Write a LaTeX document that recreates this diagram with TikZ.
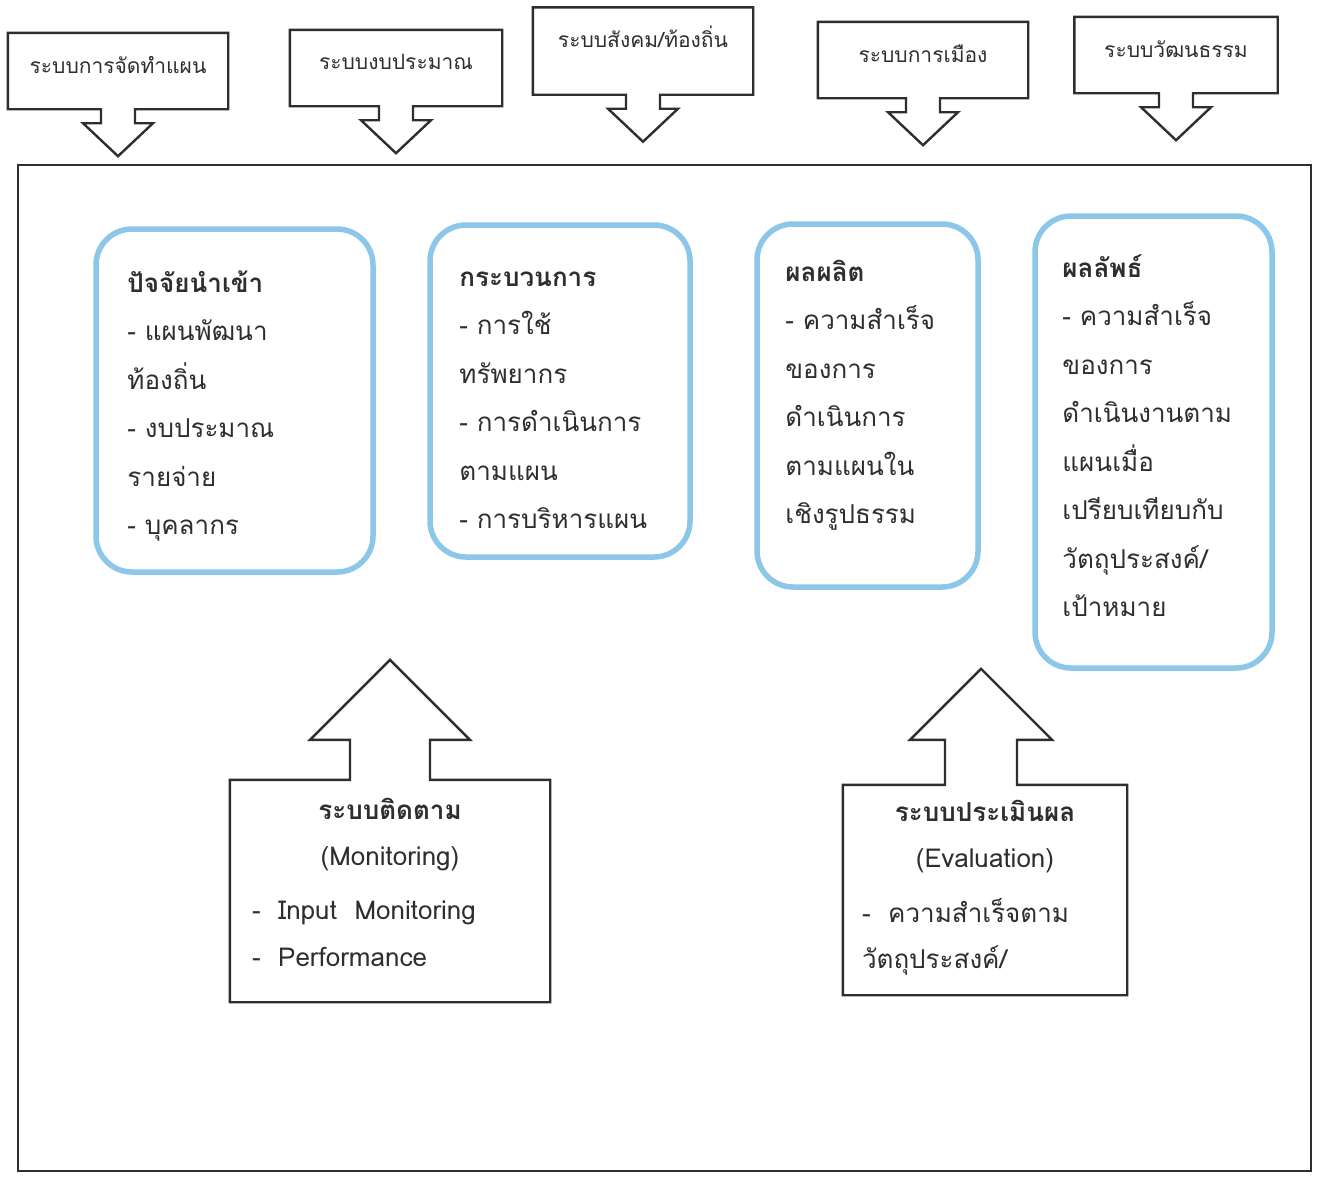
\documentclass[tikz,border=0pt]{standalone}
\usepackage{fontspec}
\setmainfont[Script=Thai]{Loma}
\usetikzlibrary{positioning}

\definecolor{stageblue}{HTML}{8CC6E8}
\definecolor{ink}{HTML}{2E2E2E}

% box with a short arrow pointing down out of its bottom edge
\newcommand{\calldown}[1]{%
  \draw[callout] (#1.north west) -- (#1.north east) -- (#1.south east)
    -- ([xshift=17pt]#1.south) -- ++(0,14) -- ++(18,0) -- ++(-35,33)
    -- ++(-35,-33) -- ++(18,0) -- ++(0,-14) -- (#1.south west) -- cycle;}
% same height for every first line
\newcommand{\firstline}{\rule{0pt}{30pt}}

\begin{document}
\begin{tikzpicture}[x=1pt, y=-1pt,
  every node/.style = {text=ink},
  topbox/.style = {minimum width=#1, minimum height=76pt, inner sep=0pt,
    font=\fontsize{21}{24}\selectfont},
  callout/.style = {draw=ink, line width=2.4pt, fill=white},
  stage/.style = {draw=stageblue, line width=5.5pt, rounded corners=36pt,
    inner sep=0pt},
  stagetext/.style = {anchor=north west, align=left, inner sep=0pt,
    font=\fontsize{26}{48.5}\selectfont},
  systext/.style = {inner sep=0pt, font=\fontsize{26}{46.5}\selectfont}]
  \useasboundingbox (0,0) rectangle (1329,1179);

  % outer frame
  \draw[ink, line width=2.6pt] (18,165) rectangle (1311,1171);

  % the five systems on top
  \node[topbox=220pt] (plan) at (118,71) {};
  \node[topbox=212pt] (budget) at (396,68) {};
  \node[topbox=220pt, minimum height=87pt] (social) at (643,51) {};
  \node[topbox=210pt] (politics) at (923,60) {};
  \node[topbox=203pt] (culture) at (1176,55) {};
  \calldown{plan}
  \calldown{budget}
  \calldown{social}
  \calldown{politics}
  \calldown{culture}
  \node[topbox=220pt, yshift=6pt] at (plan) {ระบบการจัดทำแผน};
  \node[topbox=212pt, yshift=6pt] at (budget) {ระบบงบประมาณ};
  \node[topbox=220pt, yshift=14pt] at (social) {ระบบสังคม/ท้องถิ่น};
  \node[topbox=210pt, yshift=6pt] at (politics) {ระบบการเมือง};
  \node[topbox=203pt, yshift=6pt] at (culture) {ระบบวัฒนธรรม};

  % the four stages
  \node[stage, minimum width=277pt, minimum height=343pt] (input) at (234.5,400.5) {};
  \node[stage, minimum width=260pt, minimum height=332pt] (process) at (560,391) {};
  \node[stage, minimum width=221pt, minimum height=363pt] (output) at (867.5,405.5) {};
  \node[stage, minimum width=237pt, minimum height=452pt] (outcome) at (1153.5,442) {};

  \node[stagetext] (inputtxt) at ([xshift=34pt,yshift=-36pt]input.north west)
    {\firstline\bfseries ปัจจัยนำเข้า\\- แผนพัฒนา\\ท้องถิ่น\\- งบประมาณ\\รายจ่าย\\- บุคลากร};
  \node[stagetext] (processtxt) at ([xshift=32pt,yshift=-34pt]process.north west)
    {\firstline\bfseries กระบวนการ\\- การใช้\\ทรัพยากร\\- การดำเนินการ\\ตามแผน\\- การบริหารแผน};
  \node[stagetext] (outputtxt) at ([xshift=31pt,yshift=-30pt]output.north west)
    {\firstline\bfseries ผลผลิต\\- ความสำเร็จ\\ของการ\\ดำเนินการ\\ตามแผนใน\\เชิงรูปธรรม};
  \node[stagetext] (outcometxt) at ([xshift=30pt,yshift=-34pt]outcome.north west)
    {\firstline\bfseries ผลลัพธ์\\- ความสำเร็จ\\ของการ\\ดำเนินงานตาม\\แผนเมื่อ\\เปรียบเทียบกับ\\วัตถุประสงค์/\\เป้าหมาย};

  % monitoring and evaluation
  \node[minimum width=320pt, minimum height=222pt, inner sep=0pt] (monitor) at (390,891) {};
  \draw[callout] (monitor.south west) -- (monitor.north west)
    -- ([xshift=-40pt]monitor.north) -- ++(0,-40) -- ++(-40,0) -- ++(80,-80)
    -- ++(80,80) -- ++(-40,0) -- ++(0,40) -- (monitor.north east)
    -- (monitor.south east) -- cycle;
  \node[systext, anchor=north, align=center] (monhead) at ([yshift=-18pt]monitor.north)
    {\bfseries ระบบติดตาม\\(Monitoring)};
  \node[systext, anchor=north west, align=left] (monlist) at ([xshift=22pt,yshift=-121pt]monitor.north west)
    {- \ Input \ Monitoring\\- \ Performance};

  \node[minimum width=284pt, minimum height=210pt, inner sep=0pt] (evaluate) at (985,890) {};
  \draw[callout] (evaluate.south west) -- (evaluate.north west)
    -- ([xshift=-40pt]evaluate.north) -- ++(0,-45) -- ++(-35,0) -- ++(71,-71)
    -- ++(71,71) -- ++(-35,0) -- ++(0,45) -- (evaluate.north east)
    -- (evaluate.south east) -- cycle;
  \node[systext, anchor=north, align=center] (evalhead) at ([yshift=-15pt]evaluate.north)
    {\bfseries ระบบประเมินผล\\(Evaluation)};
  \node[systext, anchor=north west, align=left] (evallist) at ([xshift=19pt,yshift=-113pt]evaluate.north west)
    {- \ ความสำเร็จตาม\\วัตถุประสงค์/};
\end{tikzpicture}
\end{document}
